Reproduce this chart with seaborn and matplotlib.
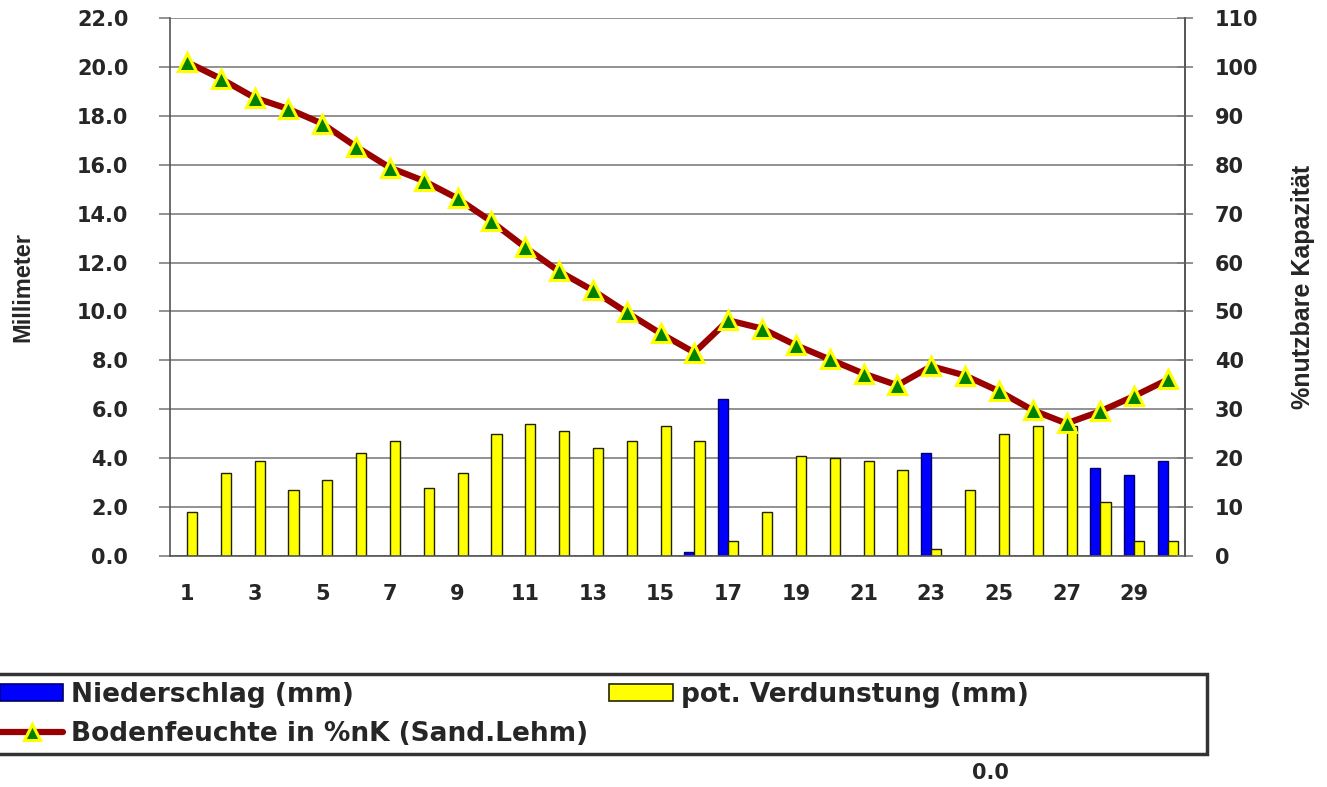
import numpy as np
import pandas as pd
import matplotlib
matplotlib.use("Agg")
import matplotlib.pyplot as plt
import matplotlib.ticker as mticker
from matplotlib.patches import Rectangle, Patch
from matplotlib.lines import Line2D
import seaborn as sns

# --- data ---
days = list(range(1, 31))
niederschlag = [0, 0, 0, 0, 0, 0, 0, 0, 0, 0,
                0, 0, 0, 0, 0, 0.15, 6.4, 0, 0, 0,
                0, 0, 4.2, 0, 0, 0, 0, 3.6, 3.3, 3.9]
verdunstung = [1.8, 3.4, 3.9, 2.7, 3.1, 4.2, 4.7, 2.8, 3.4, 5.0,
               5.4, 5.1, 4.4, 4.7, 5.3, 4.7, 0.6, 1.8, 4.1, 4.0,
               3.9, 3.5, 0.3, 2.7, 5.0, 5.3, 5.3, 2.2, 0.6, 0.6]
bodenfeuchte = [101.0, 97.6, 93.7, 91.4, 88.4, 83.7, 79.4, 76.7, 73.1, 68.4,
                63.1, 58.2, 54.3, 49.8, 45.5, 41.6, 48.2, 46.5, 43.1, 40.2,
                37.3, 34.9, 38.8, 36.9, 33.7, 29.8, 27.1, 29.6, 32.7, 36.1]

lbl_nied = "Niederschlag (mm)"
lbl_verd = "pot. Verdunstung (mm)"
lbl_boden = "Bodenfeuchte in %nK (Sand.Lehm)"

bars = pd.DataFrame({
    "Tag": days * 2,
    "mm": niederschlag + verdunstung,
    "Reihe": [lbl_nied] * len(days) + [lbl_verd] * len(days),
})

sns.set_style("white")
plt.rcParams["font.family"] = ["DejaVu Sans"]
plt.rcParams["font.weight"] = "bold"

blue = "#0000ff"
yellow = "#ffff00"
red = "#990000"
green = "#008000"
grid_col = "#7f7f7f"
narrow = ["Liberation Sans Narrow", "Liberation Sans"]

fig = plt.figure(figsize=(13.27, 7.87), dpi=100)
ax = fig.add_axes([170 / 1327, 1 - 556 / 787, 1015 / 1327, 538 / 787])

sns.barplot(data=bars, x="Tag", y="mm", hue="Reihe", palette=[blue, yellow],
            native_scale=True, width=0.6, errorbar=None, legend=False,
            saturation=1, linewidth=1.0, ax=ax)
for cont, ec in zip(ax.containers, ["#000066", "#222200"]):
    for p in cont:
        p.set_edgecolor(ec)

ax.set_xlim(0.5, 30.5)
ax.set_ylim(0, 22)
ax.yaxis.set_major_locator(mticker.MultipleLocator(2))
ax.yaxis.set_major_formatter(mticker.FormatStrFormatter("%.1f"))
ax.set_xticks(days[::2])
ax.set_xticklabels([str(d) for d in days[::2]])
ax.xaxis.set_minor_locator(mticker.FixedLocator(np.arange(0.5, 31, 1)))
ax.tick_params(axis="x", which="major", length=0, pad=20, labelsize=15)
ax.tick_params(axis="x", which="minor", direction="inout", length=11,
               width=1.2, color=grid_col)
ax.tick_params(axis="y", which="major", direction="out", length=8,
               width=1.2, color=grid_col, pad=22, labelsize=15, left=True)
ax.grid(axis="y", color=grid_col, linewidth=1.2)
ax.set_axisbelow(True)
ax.set_xlabel("")
ax.set_ylabel("Millimeter", family=narrow, fontsize=17, fontweight="bold")
ax.yaxis.set_label_coords(-0.134, 0.5)
ax.spines["top"].set_visible(False)
for side in ["left", "right", "bottom"]:
    ax.spines[side].set_color("#555555")
    ax.spines[side].set_linewidth(1.2)

ax2 = ax.twinx()
sns.lineplot(x=days, y=bodenfeuchte, ax=ax2, color=red, linewidth=4.5,
             marker="^", markersize=13, markerfacecolor=green,
             markeredgecolor=yellow, markeredgewidth=2.2)
ax2.set_ylim(0, 110)
ax2.yaxis.set_major_locator(mticker.MultipleLocator(10))
ax2.tick_params(axis="y", direction="inout", length=11, width=1.2,
                color=grid_col, pad=16, labelsize=15, right=True)
ax2.set_ylabel("%nutzbare Kapazität", family=narrow,
               fontsize=18, fontweight="bold", rotation=90)
ax2.yaxis.set_label_coords(1.104, 0.5)
for side in ["top", "left", "bottom"]:
    ax2.spines[side].set_visible(False)
ax2.spines["right"].set_color("#555555")
ax2.spines["right"].set_linewidth(1.2)

# legend frame and entries
fig.patches.append(Rectangle((-10 / 1327, 1 - 754 / 787), 1217 / 1327, 80 / 787,
                             transform=fig.transFigure, facecolor="white",
                             edgecolor="#333333", linewidth=2.5, zorder=0))
handles = [
    Patch(facecolor=blue, edgecolor="#000066", linewidth=1.2),
    Line2D([0], [0], color=red, linewidth=4.5, marker="^", markersize=12,
           markerfacecolor=green, markeredgecolor=yellow, markeredgewidth=2.2),
    Patch(facecolor=yellow, edgecolor="#222200", linewidth=1.2),
]
labels = [lbl_nied, lbl_boden, lbl_verd]
fig.legend(handles, labels, ncol=2, loc="upper left",
           bbox_to_anchor=(0.0, 1 - 682 / 787), frameon=False,
           handlelength=2.4, handleheight=0.6, handletextpad=0.3,
           columnspacing=0.8, borderpad=0, borderaxespad=0, labelspacing=0.5,
           prop={"weight": "bold", "size": 19})

fig.text(990 / 1327, 1 - 773 / 787, "0.0", ha="center", va="center",
         fontsize=15, fontweight="bold")

fig.savefig("out.png", dpi=100)
